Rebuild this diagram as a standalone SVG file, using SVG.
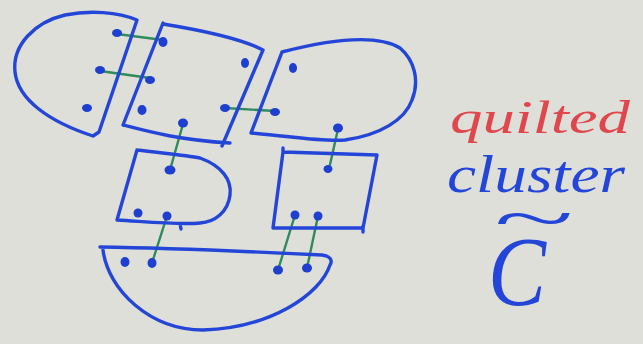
<svg xmlns="http://www.w3.org/2000/svg" width="643" height="344" viewBox="0 0 643 344">
<style>
.o{fill:none;stroke:#2446d8;stroke-width:3.4;stroke-linecap:round;stroke-linejoin:round}
.d{fill:#1f3fd0}
.c{fill:none;stroke:#2f8a5c;stroke-width:2.4;stroke-linecap:round}
.t{font-family:"Liberation Serif","DejaVu Serif",serif;font-style:italic}
</style>
<rect width="643" height="344" fill="#dedfd9"/>
<g id="connectors">
<line class="c" x1="117" y1="34" x2="163" y2="40"/>
<line class="c" x1="100" y1="71" x2="150" y2="78"/>
<line class="c" x1="225" y1="108" x2="275" y2="111"/>
<line class="c" x1="183" y1="124" x2="170" y2="170"/>
<line class="c" x1="338" y1="129" x2="329" y2="169"/>
<line class="c" x1="167" y1="216" x2="152" y2="263"/>
<line class="c" x1="295" y1="215" x2="278" y2="270"/>
<line class="c" x1="318" y1="216" x2="307" y2="268"/>
</g>
<g id="cluster-top-left">
<path class="o" d="M137,20 C118,12 90,10 65,15 C35,22 12,45 15,72 C18,100 50,122 93,136 L99,132 L137,20"/>
<ellipse class="d" cx="117" cy="33" rx="5" ry="4"/>
<ellipse class="d" cx="100" cy="70" rx="5" ry="4"/>
<ellipse class="d" cx="87" cy="108" rx="5" ry="4"/>
</g>
<g id="cluster-top-middle">
<path class="o" d="M163,23 L123,125 C150,132 180,140 230,143 M163,24 C200,30 240,38 263,50 L222,146"/>
<ellipse class="d" cx="163" cy="42" rx="4.5" ry="5"/>
<ellipse class="d" cx="150" cy="80" rx="5" ry="4"/>
<ellipse class="d" cx="142" cy="110" rx="4.5" ry="5"/>
<ellipse class="d" cx="183" cy="123" rx="5" ry="4.5"/>
<ellipse class="d" cx="245" cy="63" rx="4" ry="5"/>
<ellipse class="d" cx="225" cy="108" rx="5" ry="4"/>
</g>
<g id="cluster-top-right">
<path class="o" d="M282,52 L251,133 C290,136 320,142 345,140 C380,135 405,120 412,100 C420,80 414,60 400,48 C380,36 340,37 282,52"/>
<ellipse class="d" cx="293" cy="68" rx="4" ry="5"/>
<ellipse class="d" cx="275" cy="112" rx="5" ry="4"/>
<ellipse class="d" cx="338" cy="128" rx="5" ry="4.5"/>
</g>
<g id="cluster-middle-left">
<path class="o" d="M137,150 C160,153 185,155 200,158 C222,166 232,180 230,195 C228,212 215,222 200,223 C180,225 150,222 117,220 L137,150 M180,224 L181,229"/>
<ellipse class="d" cx="170" cy="170" rx="5.5" ry="4.5"/>
<ellipse class="d" cx="138" cy="213" rx="4.5" ry="4.5"/>
<ellipse class="d" cx="167" cy="216" rx="4.5" ry="4.5"/>
</g>
<g id="cluster-middle-right">
<path class="o" d="M283,148 L283,152 L377,155 L363,228 L273,228 L283,152 M363,226 L363,232"/>
<ellipse class="d" cx="328" cy="169" rx="4.5" ry="4"/>
<ellipse class="d" cx="295" cy="215" rx="4.5" ry="4.5"/>
<ellipse class="d" cx="318" cy="216" rx="4.5" ry="4.5"/>
</g>
<g id="cluster-bottom">
<path class="o" d="M100,247 C170,248 260,252 322,255 C330,256 333,260 330,265 C320,295 270,328 203,330 C150,330 108,290 103,250"/>
<ellipse class="d" cx="125" cy="262" rx="4.5" ry="5"/>
<ellipse class="d" cx="152" cy="263" rx="4.5" ry="5"/>
<ellipse class="d" cx="278" cy="270" rx="5" ry="4.5"/>
<ellipse class="d" cx="307" cy="268" rx="5" ry="4.5"/>
</g>
<g id="label">
<text class="t" x="450" y="133" font-size="46" fill="#e0474d" textLength="180" lengthAdjust="spacingAndGlyphs">quilted</text>
<text class="t" x="447" y="192" font-size="52" fill="#2446d8" textLength="178" lengthAdjust="spacingAndGlyphs">cluster</text>
<text class="t" fill="#2446d8"><tspan x="492" y="240" font-size="64" textLength="80" lengthAdjust="spacingAndGlyphs">~</tspan><tspan x="488" y="305" font-size="100" textLength="58" lengthAdjust="spacingAndGlyphs">C</tspan></text>
</g>
</svg>
